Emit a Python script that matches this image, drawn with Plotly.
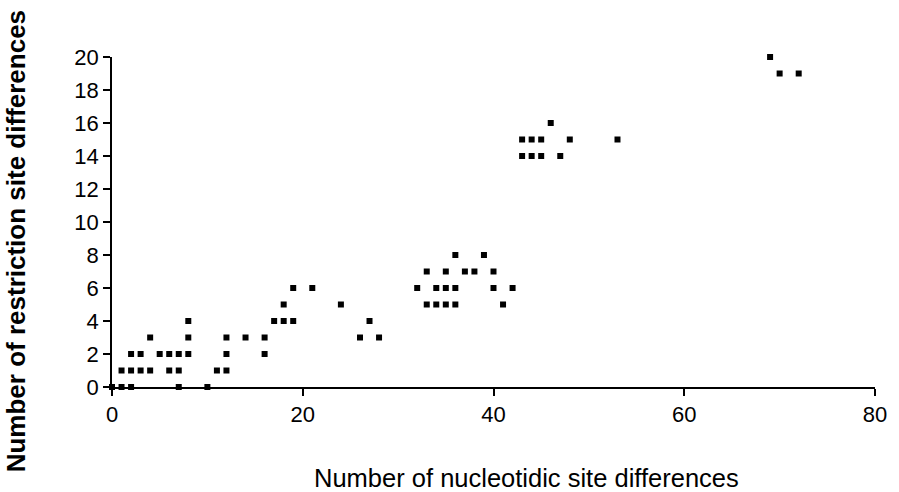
import plotly.graph_objects as go

# Number of nucleotidic site differences (x) and restriction site differences (y)
nucleotide_diffs = [0, 1, 2, 7, 10,
                    1, 2, 3, 4, 6, 7, 11, 12,
                    2, 3, 5, 6, 7, 8, 12, 16,
                    4, 8, 12, 14, 16, 26, 28,
                    8, 17, 18, 19, 27,
                    18, 24, 33, 34, 35, 36, 41,
                    19, 21, 32, 34, 35, 36, 40, 42,
                    33, 35, 37, 38, 40,
                    36, 39,
                    43, 44, 45, 47,
                    43, 44, 45, 48, 53,
                    46,
                    70, 72,
                    69]
restriction_diffs = [0, 0, 0, 0, 0,
                     1, 1, 1, 1, 1, 1, 1, 1,
                     2, 2, 2, 2, 2, 2, 2, 2,
                     3, 3, 3, 3, 3, 3, 3,
                     4, 4, 4, 4, 4,
                     5, 5, 5, 5, 5, 5, 5,
                     6, 6, 6, 6, 6, 6, 6, 6,
                     7, 7, 7, 7, 7,
                     8, 8,
                     14, 14, 14, 14,
                     15, 15, 15, 15, 15,
                     16,
                     19, 19,
                     20]

x_ticks = [0, 20, 40, 60, 80]
y_ticks = [0, 2, 4, 6, 8, 10, 12, 14, 16, 18, 20]

FONT = "Liberation Sans, Arial, Helvetica, sans-serif"

fig = go.Figure()
fig.add_trace(go.Scatter(
    x=nucleotide_diffs, y=restriction_diffs, mode="markers",
    marker=dict(symbol="square", size=6, color="black", line=dict(width=0)),
    cliponaxis=False, showlegend=False, hoverinfo="x+y"))

axis_common = dict(showgrid=False, zeroline=False, linecolor="black", linewidth=1.5,
                   tickcolor="black", tickwidth=1.5, ticklen=7)

fig.update_layout(
    width=899, height=492,
    margin=dict(l=112, r=16, t=57, b=105),
    paper_bgcolor="white", plot_bgcolor="white",
    font=dict(family=FONT, color="black", size=22),
    xaxis=dict(range=[0, 80], tickvals=x_ticks, ticks="outside", showline=True,
               tickfont=dict(size=22), ticklabelstandoff=0, **axis_common),
    yaxis=dict(range=[0, 20], tickvals=y_ticks, ticks="outside", showline=True,
               tickfont=dict(size=22), ticklabelstandoff=0, **axis_common),
    xaxis2=dict(range=[0, 80], tickvals=x_ticks, ticks="inside", overlaying="x",
                anchor="y", side="bottom", showline=False, showticklabels=False,
                **axis_common),
    yaxis2=dict(range=[0, 20], tickvals=y_ticks, ticks="inside", overlaying="y",
                anchor="x", side="left", showline=False, showticklabels=False,
                **axis_common),
    annotations=[
        dict(text="Number of nucleotidic site differences", xref="paper", yref="paper",
             x=0.543, y=-0.275, xanchor="center", yanchor="middle", showarrow=False,
             font=dict(family=FONT, size=25.5)),
        dict(text="<b>Number of restriction site differences</b>", xref="paper", yref="paper",
             x=-0.1265, y=0.443, xanchor="center", yanchor="middle", showarrow=False,
             textangle=-90, font=dict(family=FONT, size=26)),
    ],
)

fig.write_html("out.html", config={"displayModeBar": False},
               post_script="document.body.style.margin='0';document.body.style.overflow='hidden';")
